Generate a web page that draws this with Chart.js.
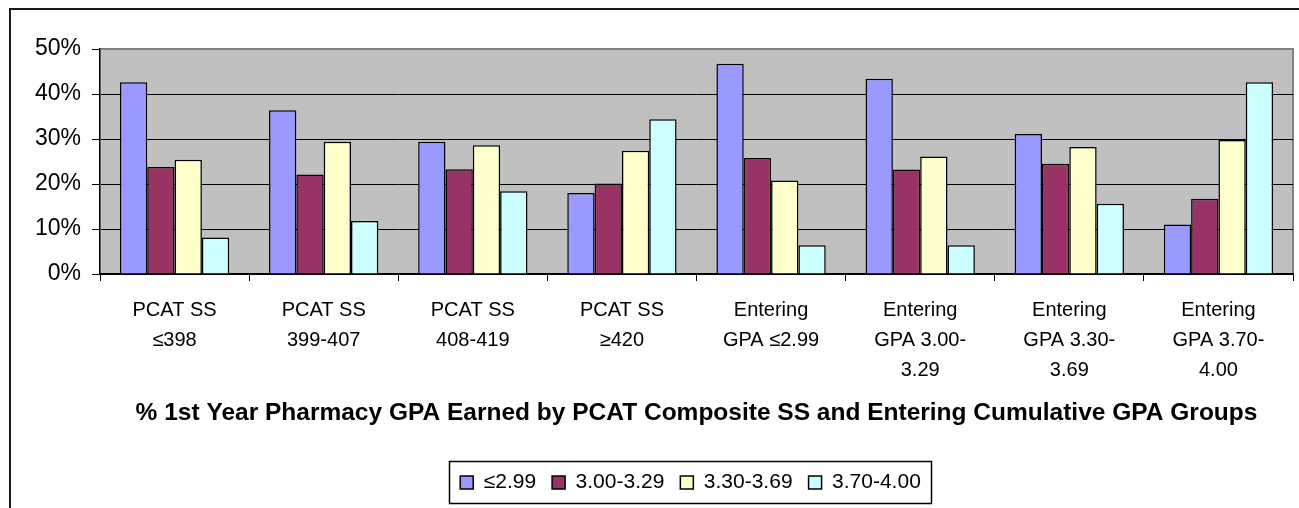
<!DOCTYPE html>
<html>
<head>
<meta charset="utf-8">
<script src="https://cdn.jsdelivr.net/npm/chart.js@4/dist/chart.umd.min.js"></script>
<style>
html,body{margin:0;padding:0;background:#fff;}
canvas{display:block;}
</style>
</head>
<body>
<canvas id="c" width="1299" height="508"></canvas>
<script>
const categories = [
  ["PCAT SS", "≤398"],
  ["PCAT SS", "399-407"],
  ["PCAT SS", "408-419"],
  ["PCAT SS", "≥420"],
  ["Entering", "GPA ≤2.99"],
  ["Entering", "GPA 3.00-", "3.29"],
  ["Entering", "GPA 3.30-", "3.69"],
  ["Entering", "GPA 3.70-", "4.00"]
];
const seriesNames = ["≤2.99", "3.00-3.29", "3.30-3.69", "3.70-4.00"];
const gpaLow  = [42.6, 36.4, 29.4, 18.0, 46.7, 43.4, 31.1, 11.0];
const gpaMid1 = [23.8, 22.1, 23.3, 20.1, 25.8, 23.2, 24.5, 16.7];
const gpaMid2 = [25.4, 29.4, 28.6, 27.4, 20.8, 26.1, 28.2, 29.8];
const gpaHigh = [8.1, 11.8, 18.4, 34.4, 6.4, 6.4, 15.6, 42.6];
const yTicks = [0, 10, 20, 30, 40, 50];
const chartTitle = "% 1st Year Pharmacy GPA Earned by PCAT Composite SS and Entering Cumulative GPA Groups";

const colors = ["#9999FF", "#993366", "#FFFFCC", "#CCFFFF"];
const FONT = "'Liberation Sans', Arial, sans-serif";

const bgPlugin = {
  id: 'bg',
  afterInit(chart) {
    const lg = chart.legend;
    if (lg && !lg._fixedFit) {
      const orig = lg.fit;
      lg.fit = function () { orig.call(this); this.height = 52; };
      lg._fixedFit = true;
    }
  },
  afterLayout(chart) {
    const lg = chart.legend;
    if (lg) { lg.left += 39; lg.right += 39; }
  },
  beforeDraw(chart) {
    const {ctx, chartArea: a} = chart;
    ctx.save();
    ctx.strokeStyle = '#1a1a1a';
    ctx.lineWidth = 2;
    ctx.beginPath();
    ctx.moveTo(10, 508);
    ctx.lineTo(10, 9);
    ctx.lineTo(1299, 9);
    ctx.stroke();
    ctx.fillStyle = '#C0C0C0';
    ctx.fillRect(a.left, a.top, a.right - a.left, a.bottom - a.top);
    ctx.strokeStyle = '#808080';
    ctx.lineWidth = 2;
    ctx.beginPath();
    ctx.moveTo(a.left, a.top);
    ctx.lineTo(a.right, a.top);
    ctx.lineTo(a.right, a.bottom);
    ctx.stroke();
    ctx.restore();
  },
  afterDraw(chart) {
    const lg = chart.legend;
    if (!lg || !lg.legendHitBoxes || !lg.legendHitBoxes.length) return;
    const hb = lg.legendHitBoxes;
    let l = Infinity, r = -Infinity, t = Infinity, b = -Infinity;
    hb.forEach(h => {
      l = Math.min(l, h.left); r = Math.max(r, h.left + h.width);
      t = Math.min(t, h.top); b = Math.max(b, h.top + h.height);
    });
    const ctx = chart.ctx;
    ctx.save();
    ctx.strokeStyle = '#000';
    ctx.lineWidth = 1.5;
    ctx.strokeRect(Math.round(l - 11) + 0.5, Math.round(t - 11) + 0.5, Math.round(r - l + 21), Math.round(b - t + 21));
    ctx.restore();
  }
};

const mk = (i, data) => ({
  label: seriesNames[i],
  data: data,
  backgroundColor: colors[i],
  borderColor: '#000',
  borderWidth: 1.5,
  categoryPercentage: 0.733,
  barPercentage: 1.0
});

new Chart(document.getElementById('c'), {
  type: 'bar',
  data: {
    labels: categories,
    datasets: [mk(0, gpaLow), mk(1, gpaMid1), mk(2, gpaMid2), mk(3, gpaHigh)]
  },
  options: {
    responsive: false,
    animation: false,
    devicePixelRatio: 1,
    layout: { padding: { left: 10, top: 49, right: 6, bottom: 0 } },
    plugins: {
      tooltip: { enabled: false },
      title: { display: false },
      legend: {
        position: 'bottom',
        labels: {
          boxWidth: 13,
          boxHeight: 13,
          padding: 16,
          color: '#000',
          font: { family: FONT, size: 21 }
        }
      }
    },
    scales: {
      x: {
        grid: {
          display: true,
          drawOnChartArea: false,
          drawTicks: true,
          tickLength: 7,
          tickColor: '#000',
          color: '#000',
          offset: true
        },
        border: { color: '#000', width: 1.5 },
        ticks: {
          autoSkip: false,
          maxRotation: 0,
          minRotation: 0,
          padding: 14,
          color: '#000',
          font: { family: FONT, size: 20, lineHeight: 1.5 }
        },
        title: {
          display: true,
          text: chartTitle,
          color: '#000',
          font: { family: FONT, size: 24.5, weight: 'bold', lineHeight: 1.2 },
          padding: { top: 4, bottom: 28 }
        },
        afterFit(scale) { scale.height = 182; }
      },
      y: {
        min: 0,
        max: 50,
        afterBuildTicks(scale) { scale.ticks = yTicks.map(v => ({ value: v })); },
        grid: {
          color: ctx => (ctx.tick && ctx.tick.value === 50) ? '#808080' : '#000',
          lineWidth: 1,
          tickLength: 8,
          tickColor: '#000',
          drawTicks: true
        },
        border: { color: '#000', width: 1.5 },
        ticks: {
          padding: 11,
          color: '#000',
          font: { family: FONT, size: 23 },
          callback: v => v + '%'
        },
        afterFit(scale) { scale.width = 90; }
      }
    }
  },
  plugins: [bgPlugin]
});
</script>
</body>
</html>
